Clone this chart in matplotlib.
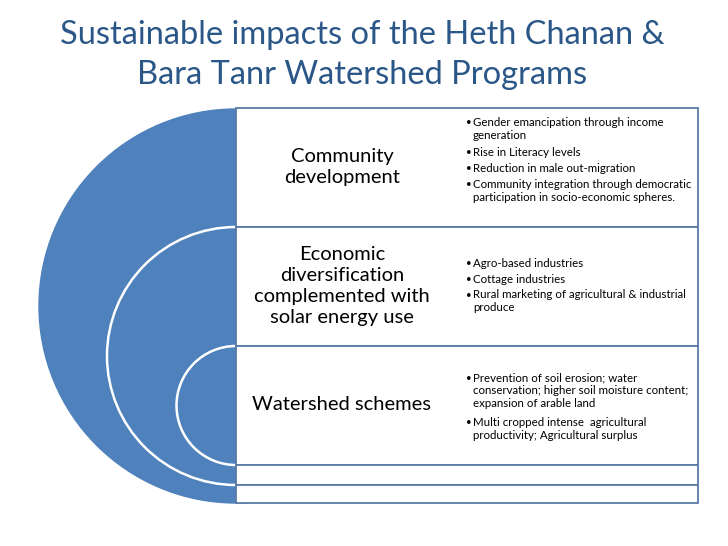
import matplotlib.pyplot as plt
from matplotlib.patches import Circle, Rectangle

title_lines = ["Sustainable impacts of the Heth Chanan &", "Bara Tanr Watershed Programs"]
labels = ["Community\ndevelopment",
          "Economic\ndiversification\ncomplemented with\nsolar energy use",
          "Watershed schemes"]
bullets = [
    ["Gender emancipation through income\ngeneration", "Rise in Literacy levels",
     "Reduction in male out-migration",
     "Community integration through democratic\nparticipation in socio-economic spheres."],
    ["Agro-based industries", "Cottage industries",
     "Rural marketing of agricultural & industrial\nproduce"],
    ["Prevention of soil erosion; water\nconservation; higher soil moisture content;\nexpansion of arable land",
     "Multi cropped intense  agricultural\nproductivity; Agricultural surplus"],
]
row_edges = [108, 227, 346, 465, 485, 503]

blue = "#4F81BD"
edge = "#5A7BA6"
title_col = "#2A5788"
plt.rcParams['font.family'] = ['Lato', 'DejaVu Sans']

fig = plt.figure(figsize=(7.28, 5.46), dpi=100)
ax = fig.add_axes([0, 0, 1, 1])
ax.set_xlim(0, 728)
ax.set_ylim(546, 0)
ax.axis('off')

cx = 236
ax.add_patch(Circle((cx, 306), 197, color=blue, zorder=1))
ax.add_patch(Circle((cx, 356), 129, fill=False, ec="white", lw=1.8, zorder=2))
ax.add_patch(Circle((cx, 405.5), 59.5, fill=False, ec="white", lw=1.8, zorder=2))

x0, x1 = 236, 698
for i in range(len(row_edges) - 1):
    ax.add_patch(Rectangle((x0, row_edges[i]), x1 - x0, row_edges[i + 1] - row_edges[i],
                           fc="white", ec=edge, lw=1.3, zorder=3))

ax.text(362, 35, title_lines[0], ha='center', va='center', fontsize=23.5, color=title_col)
ax.text(362, 75, title_lines[1], ha='center', va='center', fontsize=23.5, color=title_col)

label_y = [167, 286, 405]
for lab, y in zip(labels, label_y):
    ax.text(342, y, lab, ha='center', va='center', fontsize=14.5, color='black',
            linespacing=1.28, zorder=4)

lh = 14.3
gap = 1.5
offsets = [-7, 0, 2]
for i, items in enumerate(bullets):
    nlines = sum(s.count("\n") + 1 for s in items)
    height = nlines * lh + (len(items) - 1) * gap
    y = (row_edges[i] + row_edges[i + 1]) / 2 - height / 2 + offsets[i]
    for s in items:
        ax.text(466, y + lh / 2, "\u2022", fontsize=7, va='center', zorder=4)
        ax.text(473, y + 1.5, s, fontsize=8.3, va='top', linespacing=1.22, zorder=4)
        y += lh * (s.count("\n") + 1) + gap

fig.savefig("out.png", dpi=100)
